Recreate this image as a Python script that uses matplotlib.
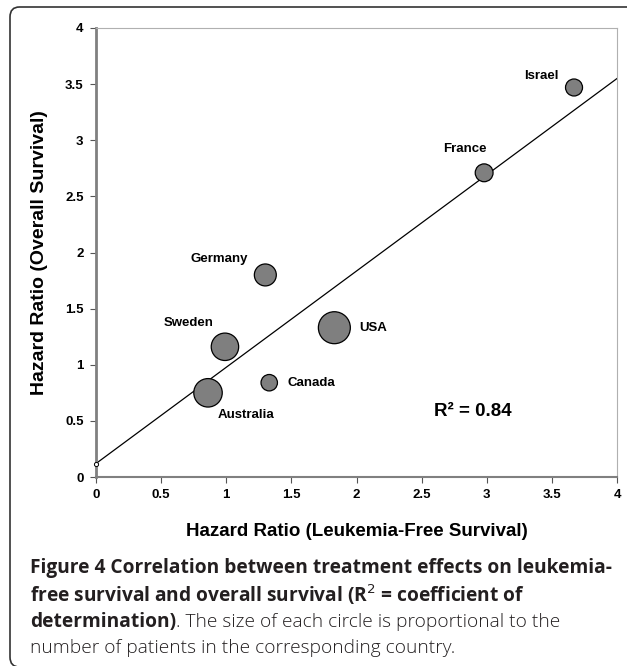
import matplotlib.pyplot as plt
from matplotlib.patches import FancyBboxPatch

# Daten
countries = ['Israel', 'France', 'Germany', 'Sweden', 'USA', 'Canada', 'Australia']
hr_lfs = [3.67, 2.98, 1.30, 0.99, 1.83, 1.33, 0.86]
hr_os = [3.47, 2.71, 1.80, 1.16, 1.33, 0.84, 0.75]
sizes = [150, 165, 250, 390, 530, 140, 420]
label_x = [3.42, 2.83, 0.95, 0.71, 2.13, 1.65, 1.15]
label_y = [3.57, 2.92, 1.94, 1.375, 1.33, 0.84, 0.55]

trend_x = [0, 4]
trend_y = [0.12, 3.55]

ticks = [0, 0.5, 1, 1.5, 2, 2.5, 3, 3.5, 4]
tick_labels = ['0', '0.5', '1', '1.5', '2', '2.5', '3', '3.5', '4']

arial = ['Liberation Sans', 'DejaVu Sans']
cap_font = ['Open Sans', 'DejaVu Sans']

fig = plt.figure(figsize=(6.27, 6.66), dpi=100)
ax = fig.add_axes([96/627, 1-477/666, 521/627, 449/666])

ax.plot(trend_x, trend_y, color='black', lw=0.9, zorder=2)
ax.plot(trend_x[0], trend_y[0], 'o', ms=3, mfc='white', mec='black', mew=0.7,
        clip_on=False, zorder=3)
ax.scatter(hr_lfs, hr_os, s=sizes, color='#7f7f7f', edgecolors='black',
           linewidths=0.9, zorder=4)

for name, x, y in zip(countries, label_x, label_y):
    ax.text(x, y, name, ha='center', va='center', fontsize=9.5,
            fontweight='bold', family=arial)

ax.text(2.89, 0.58, 'R² = 0.84', ha='center', va='center', fontsize=13.5,
        fontweight='bold', family=arial)

ax.set_xlim(0, 4)
ax.set_ylim(0, 4)
ax.set_xticks(ticks)
ax.set_xticklabels(tick_labels)
ax.set_yticks(ticks)
ax.set_yticklabels(tick_labels)
for lab in ax.get_xticklabels() + ax.get_yticklabels():
    lab.set_fontweight('bold')
    lab.set_family(arial)
    lab.set_fontsize(9.5)
ax.tick_params(direction='out', length=4, width=0.8, color='#555555', pad=5)

ax.spines['left'].set_color('#808080')
ax.spines['left'].set_linewidth(2)
ax.spines['bottom'].set_color('#808080')
ax.spines['bottom'].set_linewidth(1.5)
ax.spines['top'].set_color('#b0b0b0')
ax.spines['right'].set_color('#b0b0b0')
ax.spines['top'].set_linewidth(0.8)
ax.spines['right'].set_linewidth(0.8)

ax.set_ylabel('Hazard Ratio (Overall Survival)', fontsize=14,
              fontweight='bold', family=arial, labelpad=12)
fig.text((96 + 617) / 2 / 627, 1-532/666, 'Hazard Ratio (Leukemia-Free Survival)',
         fontsize=13.5, fontweight='bold', family=arial, ha='center', va='center')

# Rahmen
frame = FancyBboxPatch((10/627, -1/666), 640/627, 660/666,
                       boxstyle='round,pad=0,rounding_size=0.015',
                       transform=fig.transFigure, fill=False,
                       edgecolor='#333333', lw=1.2, clip_on=False)
fig.patches.append(frame)

# Bildunterschrift
cap_col = '#231f20'
fs = 13.8
cx = 30/627
fig.text(cx, 1-568/666, 'Figure 4 Correlation between treatment effects on leukemia-',
         fontsize=fs, fontweight='bold', family=cap_font, color=cap_col, va='center')
fig.text(cx, 1-595/666, 'free survival and overall survival (R$^2$ = coefficient of',
         fontsize=fs, fontweight='bold', family=cap_font, color=cap_col, va='center')
t3 = fig.text(cx, 1-622/666, 'determination)', fontsize=fs, fontweight='bold',
              family=cap_font, color=cap_col, va='center')
ax.annotate('. The size of each circle is proportional to the', xy=(1, 0.5),
            xycoords=t3, va='center', ha='left', fontsize=fs, family=cap_font,
            fontweight='light', color=cap_col, annotation_clip=False)
fig.text(cx, 1-648/666, 'number of patients in the corresponding country.',
         fontsize=fs, family=cap_font, fontweight='light', color=cap_col, va='center')

fig.savefig('out.png', dpi=100)
